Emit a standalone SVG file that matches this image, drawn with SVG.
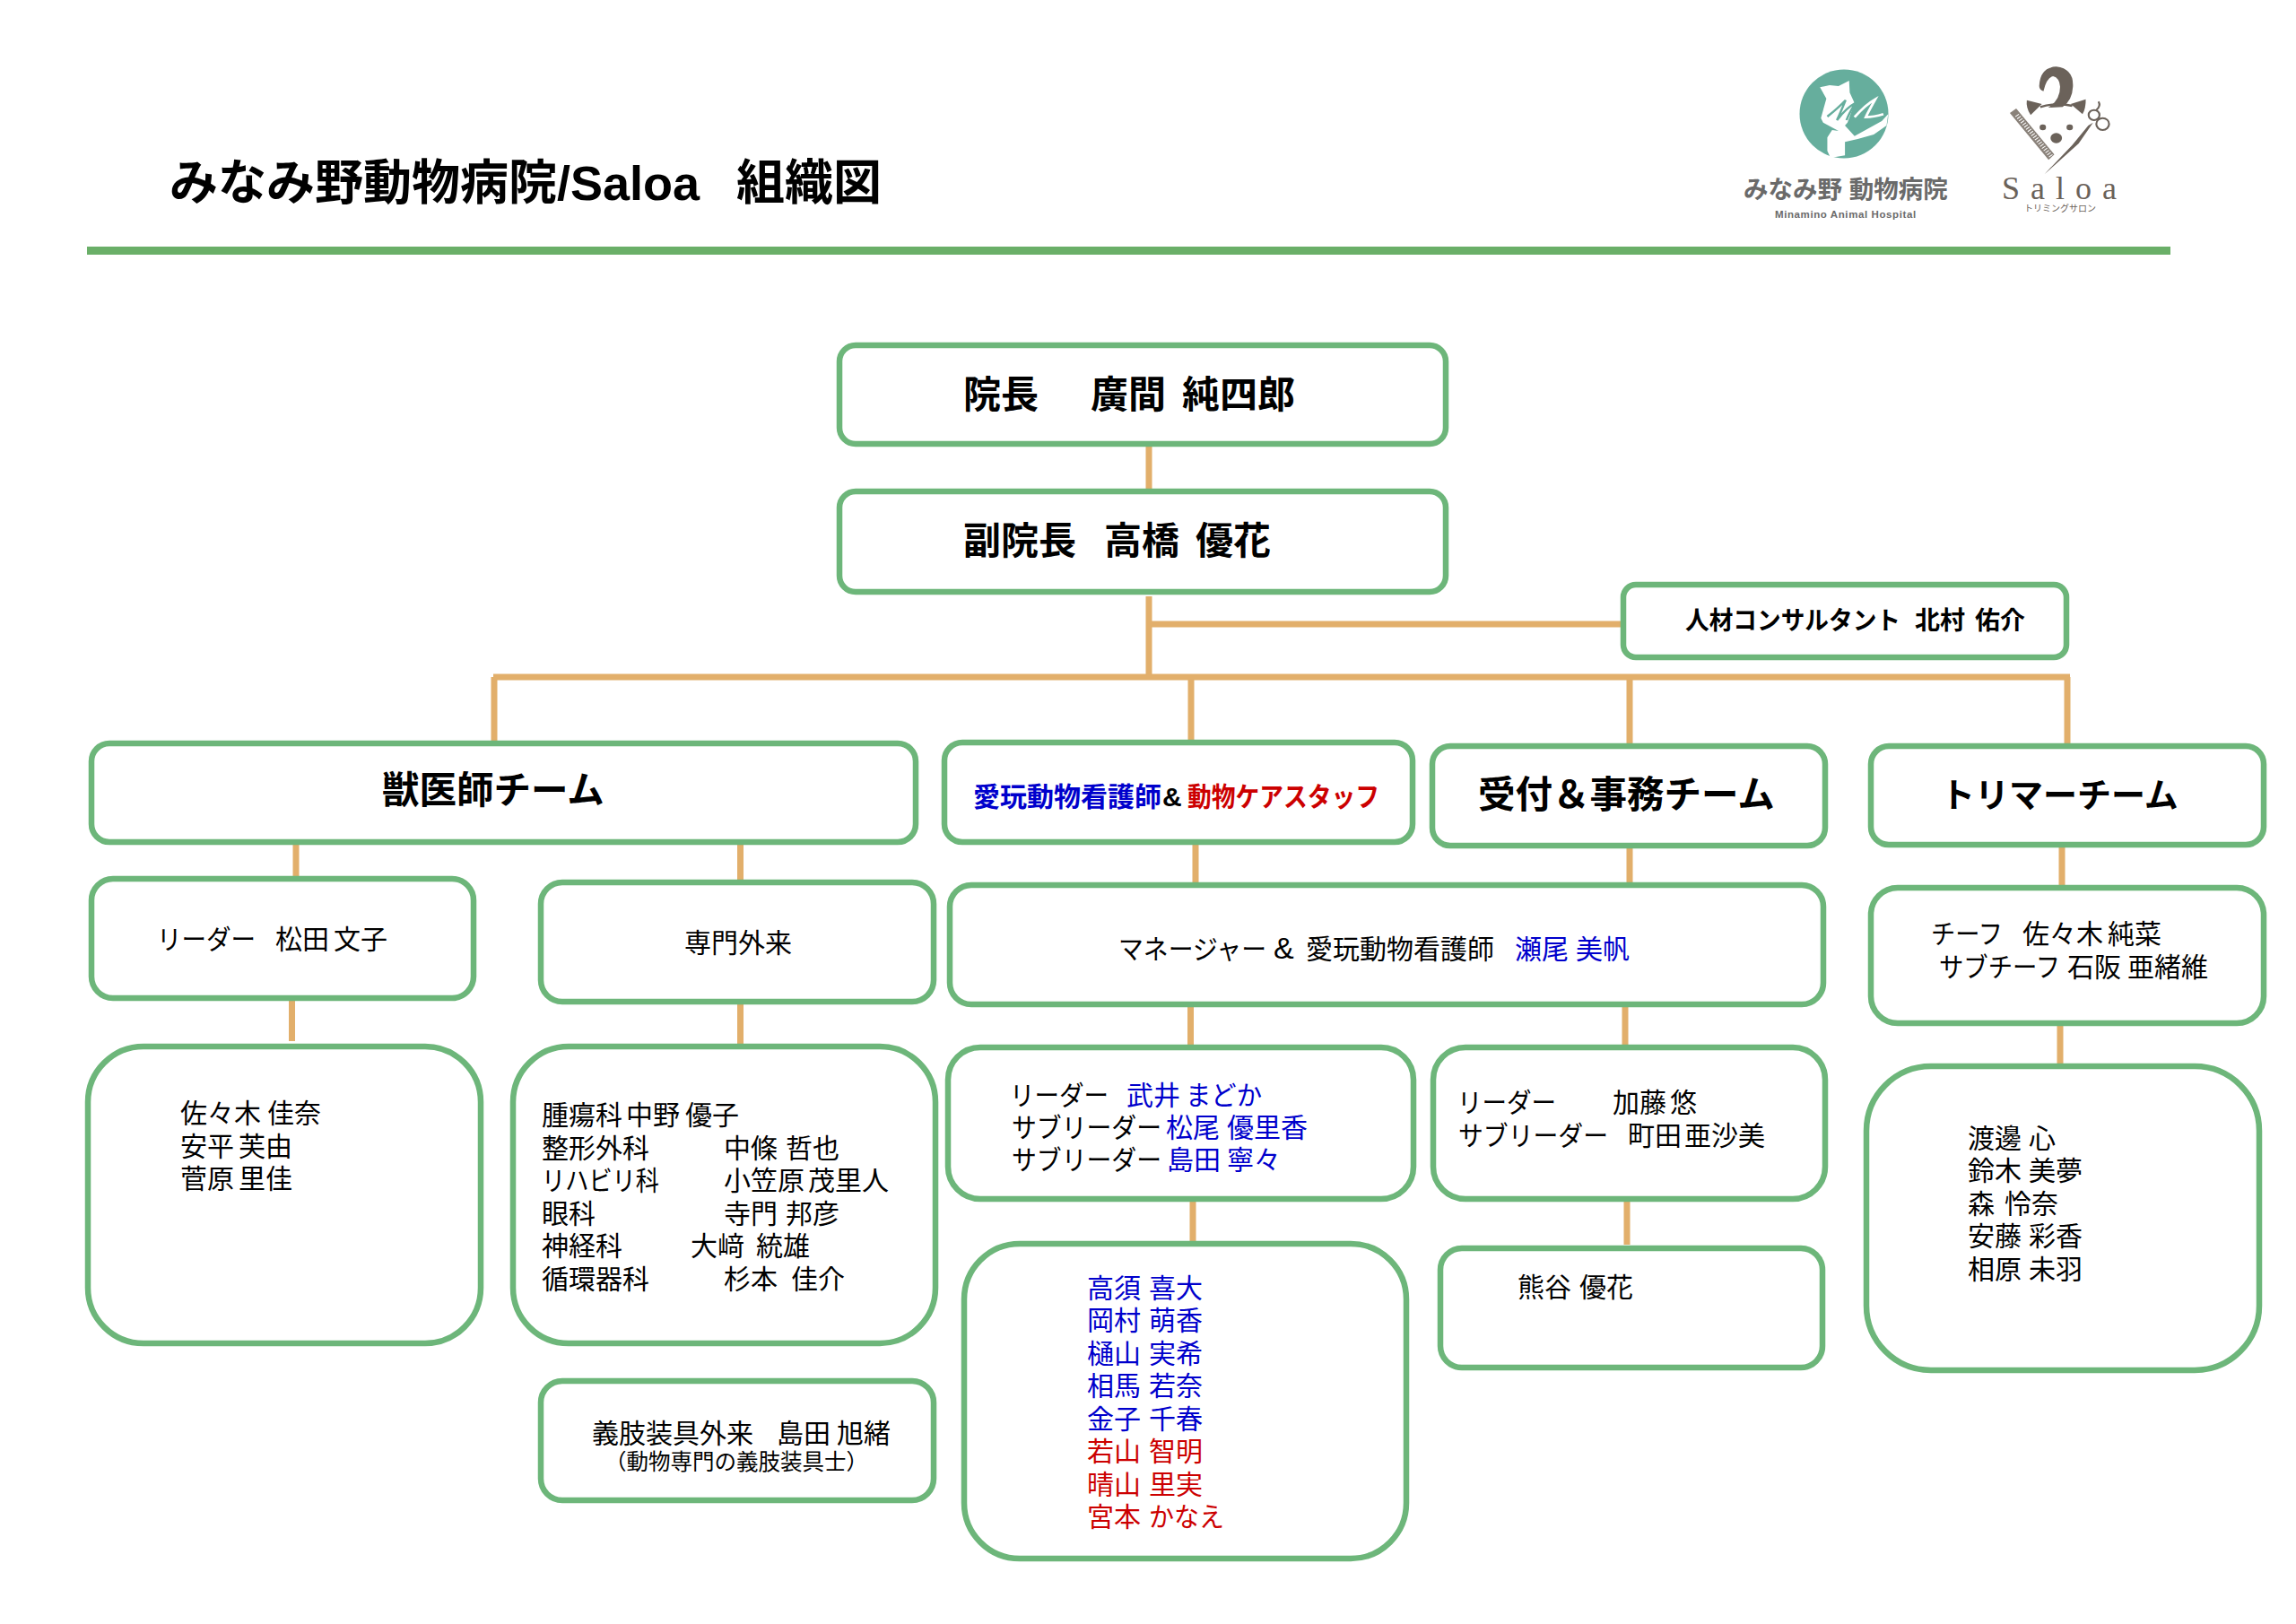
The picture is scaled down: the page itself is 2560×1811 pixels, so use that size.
<svg xmlns="http://www.w3.org/2000/svg" width="2560" height="1811" viewBox="0 0 2560 1811">
<style>
text{font-family:"Liberation Sans","Noto Sans CJK JP",sans-serif;fill:#000;font-size:30px;white-space:pre}
.b{font-weight:700}
.h{font-size:42px;font-weight:700}
.t{font-size:38px;font-weight:700}
.blue{fill:#0000cc}
.red{fill:#cc0000}
.sp{font-size:3px}
.box{fill:#fff;stroke:#6db67a;stroke-width:6.5}
.c{fill:none;stroke:#e2af6b;stroke-width:7}
</style>
<rect width="2560" height="1811" fill="#fff"/>
<g id="title">
<text class="b" y="223" style="font-size:54px"><tspan x="189">みなみ野動物病院</tspan><tspan x="621">/Saloa</tspan><tspan x="821">組織図</tspan></text>
<rect x="97" y="275" width="2323" height="9" fill="#6aaf68"/>
</g>
<g id="logo-hospital">
<circle cx="2056" cy="127" r="49.5" fill="#66ae9d"/>
<g transform="translate(1900 40) scale(.357 .3333)">
<path fill="#fff" d="M362,172L392,165L420,168L453,150L455,190L470,225L448,290L440,300L470,335L555,285L575,262L570,300L530,330L480,345L440,355L440,400L395,408L385,385L385,340L400,315L420,318L372,290L365,275L382,210Z"/>
<path fill="none" stroke="#66ae9d" stroke-width="7" d="M385,270Q420,240 442,215Q425,260 415,282Q445,240 472,225Q450,265 445,282"/>
<path fill="none" stroke="#fff" stroke-width="8" d="M470,272Q505,230 535,212Q510,260 505,272Q530,272 560,262"/>
</g>
<text class="b" x="1944" y="221" style="font-size:27.5px;fill:#6a6a6a">みなみ野 動物病院</text>
<text class="b" x="1979" y="243" style="font-size:11.5px;fill:#6a6a6a;letter-spacing:.6px">Minamino Animal Hospital</text>
</g>
<g id="logo-saloa">
<g transform="translate(1900 40) scale(.357 .3333)" fill="#6b625a">
<path d="M1047,165Q1050,105 1100,103Q1155,110 1152,170Q1150,215 1120,238L1075,240Q1112,215 1112,170Q1110,140 1090,135Q1070,140 1060,185Q1045,180 1047,165Z"/>
<path d="M1008,215L1055,228L1020,265Q1005,240 1008,215Z"/>
<path d="M1192,212L1145,228L1182,262Q1193,240 1192,212Z"/>
<path d="M1050,238Q1100,222 1150,234" fill="none" stroke="#6b625a" stroke-width="7"/>
<circle cx="1058" cy="306" r="10"/><circle cx="1142" cy="306" r="10"/>
<ellipse cx="1100" cy="342" rx="18" ry="17"/>
<path d="M955,258L975,243L1094,397L1076,415Z" fill="#8a827a"/>
<path d="M977,265L1084,403" stroke="#fff" stroke-width="14" stroke-dasharray="3 6" fill="none"/>
<path d="M1063,463L1150,365L1200,300L1215,290L1170,360Z"/>
<g fill="none" stroke="#6b625a" stroke-width="6"><circle cx="1218" cy="265" r="17"/><circle cx="1245" cy="295" r="20"/><path d="M1225,248Q1240,235 1232,220"/></g>
</g>
<text x="2232" y="222" style="font-family:'Liberation Serif',serif;font-size:36px;fill:#6b625a;letter-spacing:12px">Saloa</text>
<text x="2257" y="236" style="font-size:10px;fill:#6b625a">トリミングサロン</text>
</g>
<g id="connectors">
<path class="c" d="M1281,498V545M1281,665V755M1281,696H1808M550,755H2308M551,755V826M1328,755V826M1817,755V830M2305,755V829"/>
<path class="c" d="M330,941V978M825.5,941V982M325.5,1116V1161M825.5,1120V1165"/>
<path class="c" d="M1333,942V985M1817,946V985M1327.5,1123V1165M1812,1123V1165M1330,1339V1385M1814,1339V1388"/>
<path class="c" d="M2299,945V988M2297,1144V1186"/>
</g>
<g id="n-director"><rect class="box" x="936" y="385" width="676" height="110" rx="18"/><text class="h" y="455"><tspan x="1074">院長</tspan>　<tspan x="1216">廣間</tspan> <tspan x="1318">純四郎</tspan></text></g>
<g id="n-vice"><rect class="box" x="936" y="548" width="676" height="112" rx="18"/><text class="h" y="618"><tspan x="1074">副院長</tspan> <tspan x="1231">高橋</tspan> <tspan x="1333">優花</tspan></text></g>
<g id="n-consultant"><rect class="box" x="1810" y="652" width="494" height="81" rx="14"/><text class="b" y="702" style="font-size:28px"><tspan x="1879" textLength="240" lengthAdjust="spacingAndGlyphs">人材コンサルタント</tspan> <tspan x="2135">北村</tspan> <tspan x="2202">佑介</tspan></text></g>
<g id="n-vet"><rect class="box" x="102" y="829" width="919" height="110" rx="20"/><text class="t" x="426" y="896" style="font-size:41.5px">獣医師チーム</text></g>
<g id="n-nurse"><rect class="box" x="1053" y="828" width="522" height="111" rx="20"/><text class="b" y="899"><tspan x="1085" class="blue">愛玩動物看護師</tspan><tspan x="1296">&amp;</tspan><tspan x="1324" class="red" textLength="214" lengthAdjust="spacingAndGlyphs">動物ケアスタッフ</tspan></text></g>
<g id="n-reception"><rect class="box" x="1597" y="832" width="438" height="111" rx="20"/><text class="t" x="1648" y="901" style="font-size:41.5px">受付＆事務チーム</text></g>
<g id="n-trimmer"><rect class="box" x="2086" y="832" width="438" height="110" rx="20"/><text class="t" x="2164" y="900">トリマーチーム</text></g>
<g id="n-vet-leader"><rect class="box" x="102" y="980" width="426" height="133" rx="24"/><text y="1058"><tspan x="175" textLength="110" lengthAdjust="spacingAndGlyphs">リーダー</tspan>　<tspan x="307">松田</tspan> <tspan x="372">文子</tspan></text></g>
<g id="n-specialty"><rect class="box" x="603" y="984" width="438" height="133" rx="24"/><text x="763" y="1062">専門外来</text></g>
<g id="n-vet-staff"><rect class="box" x="98" y="1167" width="438" height="331" rx="62"/>
<text x="201" y="1252">佐々木 <tspan x="298">佳奈</tspan></text><text x="201" y="1289">安平 <tspan x="266">芙由</tspan></text><text x="201" y="1325">菅原 <tspan x="266">里佳</tspan></text></g>
<g id="n-specialty-list"><rect class="box" x="572" y="1167" width="471" height="331" rx="62"/>
<text x="604" y="1254">腫瘍科<tspan x="698">中野</tspan> <tspan x="764">優子</tspan></text>
<text x="604" y="1291">整形外科 <tspan x="807">中條</tspan> <tspan x="876">哲也</tspan></text>
<text y="1327"><tspan x="604" textLength="131" lengthAdjust="spacingAndGlyphs">リハビリ科</tspan> <tspan x="807">小笠原</tspan> <tspan x="901">茂里人</tspan></text>
<text x="604" y="1364">眼科 <tspan x="807">寺門</tspan> <tspan x="876">邦彦</tspan></text>
<text x="604" y="1400">神経科 <tspan x="770">大﨑</tspan> <tspan x="843">統雄</tspan></text>
<text x="604" y="1437">循環器科 <tspan x="807">杉本</tspan> <tspan x="882">佳介</tspan></text></g>
<g id="n-prosthetic"><rect class="box" x="603" y="1540" width="438" height="133" rx="24"/>
<text y="1609"><tspan x="660">義肢装具外来</tspan>　<tspan x="866">島田</tspan> <tspan x="933">旭緒</tspan></text>
<text x="674" y="1639" style="font-size:24.5px">（動物専門の義肢装具士）</text></g>
<g id="n-manager"><rect class="box" x="1059" y="987" width="974" height="133" rx="24"/>
<text y="1069"><tspan x="1247" textLength="165" lengthAdjust="spacingAndGlyphs">マネージャー</tspan> <tspan x="1420" style="font-size:34px">&amp;</tspan> <tspan x="1456">愛玩動物看護師</tspan> <tspan x="1689" class="blue">瀬尾</tspan> <tspan x="1757" class="blue">美帆</tspan></text></g>
<g id="n-nurse-leaders"><rect class="box" x="1057" y="1168" width="519" height="169" rx="36"/>
<text y="1232"><tspan x="1126" textLength="110" lengthAdjust="spacingAndGlyphs">リーダー</tspan> <tspan x="1256" class="blue">武井</tspan> <tspan x="1322" class="blue" textLength="85" lengthAdjust="spacingAndGlyphs">まどか</tspan></text>
<text y="1268"><tspan x="1128" textLength="167" lengthAdjust="spacingAndGlyphs">サブリーダー</tspan><tspan class="sp"> </tspan><tspan x="1300" class="blue">松尾</tspan> <tspan x="1368" class="blue">優里香</tspan></text>
<text y="1304"><tspan x="1128" textLength="167" lengthAdjust="spacingAndGlyphs">サブリーダー</tspan><tspan class="sp"> </tspan><tspan x="1301" class="blue">島田</tspan> <tspan x="1368" class="blue">寧々</tspan></text></g>
<g id="n-reception-leaders"><rect class="box" x="1598" y="1168" width="437" height="169" rx="36"/>
<text y="1240"><tspan x="1625" textLength="110" lengthAdjust="spacingAndGlyphs">リーダー</tspan> <tspan x="1798">加藤</tspan> <tspan x="1862">悠</tspan></text>
<text y="1277"><tspan x="1626" textLength="167" lengthAdjust="spacingAndGlyphs">サブリーダー</tspan> <tspan x="1815">町田</tspan> <tspan x="1878">亜沙美</tspan></text></g>
<g id="n-nurse-staff"><rect class="box" x="1075" y="1387" width="493" height="351" rx="62"/>
<g>
<text y="1447" class="blue"><tspan x="1212">高須</tspan> <tspan x="1281">喜大</tspan></text>
<text y="1483" class="blue"><tspan x="1212">岡村</tspan> <tspan x="1281">萌香</tspan></text>
<text y="1520" class="blue"><tspan x="1212">樋山</tspan> <tspan x="1281">実希</tspan></text>
<text y="1556" class="blue"><tspan x="1212">相馬</tspan> <tspan x="1281">若奈</tspan></text>
<text y="1593" class="blue"><tspan x="1212">金子</tspan> <tspan x="1281">千春</tspan></text>
<text y="1629" class="red"><tspan x="1212">若山</tspan> <tspan x="1281">智明</tspan></text>
<text y="1666" class="red"><tspan x="1212">晴山</tspan> <tspan x="1281">里実</tspan></text>
<text y="1702" class="red"><tspan x="1212">宮本</tspan> <tspan x="1281" textLength="84" lengthAdjust="spacingAndGlyphs">かなえ</tspan></text>
</g></g>
<g id="n-reception-staff"><rect class="box" x="1606" y="1392" width="426" height="133" rx="24"/><text y="1446"><tspan x="1692">熊谷</tspan> <tspan x="1761">優花</tspan></text></g>
<g id="n-trimmer-chief"><rect class="box" x="2086" y="990" width="438" height="151" rx="30"/>
<text y="1052"><tspan x="2153" textLength="80" lengthAdjust="spacingAndGlyphs">チーフ</tspan>　<tspan x="2255">佐々木</tspan> <tspan x="2350">純菜</tspan></text>
<text y="1089"><tspan x="2162" textLength="135" lengthAdjust="spacingAndGlyphs">サブチーフ</tspan> <tspan x="2305">石阪</tspan> <tspan x="2372">亜緒維</tspan></text></g>
<g id="n-trimmer-staff"><rect class="box" x="2081" y="1189" width="438" height="339" rx="72"/>
<text y="1280"><tspan x="2194">渡邊</tspan> <tspan x="2262">心</tspan></text>
<text y="1316"><tspan x="2194">鈴木</tspan> <tspan x="2262">美夢</tspan></text>
<text y="1353"><tspan x="2194">森</tspan> <tspan x="2235">怜奈</tspan></text>
<text y="1389"><tspan x="2194">安藤</tspan> <tspan x="2262">彩香</tspan></text>
<text y="1426"><tspan x="2194">相原</tspan> <tspan x="2262">未羽</tspan></text></g>
</svg>
